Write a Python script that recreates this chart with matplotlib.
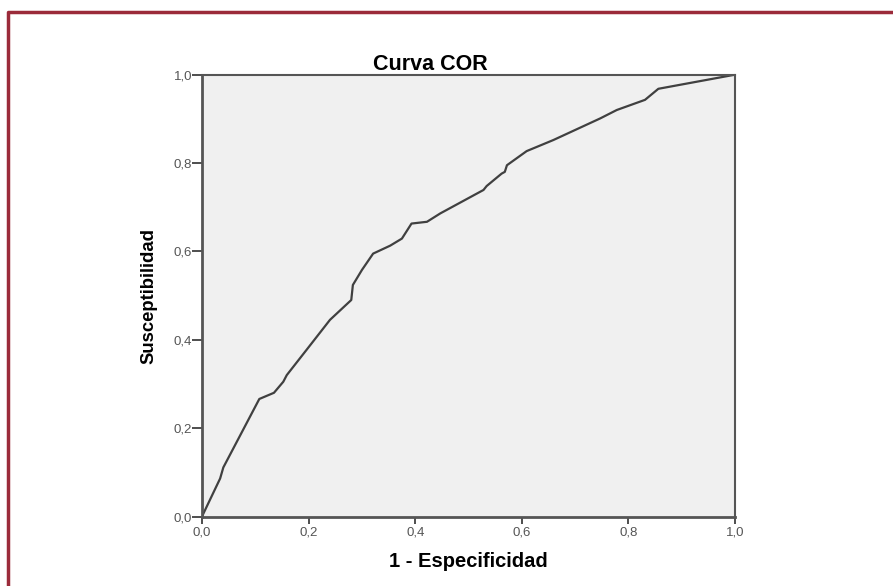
import matplotlib
matplotlib.use("Agg")
import matplotlib.pyplot as plt
import matplotlib.ticker as ticker
from matplotlib.lines import Line2D

plt.rcParams["font.family"] = ["Liberation Sans", "DejaVu Sans"]

# ROC curve points
fpr = [0.0, 0.034, 0.040, 0.1075, 0.135, 0.1525, 0.159, 0.196, 0.240, 0.280,
       0.283, 0.300, 0.321, 0.353, 0.375, 0.393, 0.422, 0.447, 0.528, 0.534,
       0.562, 0.568, 0.572, 0.609, 0.659, 0.747, 0.778, 0.831, 0.856, 1.0]
tpr = [0.0, 0.086, 0.111, 0.266, 0.280, 0.305, 0.320, 0.377, 0.445, 0.490,
       0.524, 0.558, 0.595, 0.613, 0.629, 0.663, 0.667, 0.686, 0.739, 0.748,
       0.776, 0.780, 0.795, 0.827, 0.852, 0.901, 0.920, 0.943, 0.968, 1.0]
ticks = [0.0, 0.2, 0.4, 0.6, 0.8, 1.0]

fig = plt.figure(figsize=(8.93, 5.86), dpi=100)
ax = fig.add_axes([0.2262, 0.1186, 0.597, 0.754])
ax.set_facecolor("#f0f0f0")

ax.plot(fpr, tpr, color="#404040", linewidth=1.6)

ax.set_xlim(0, 1)
ax.set_ylim(0, 1)
ax.set_xticks(ticks)
ax.set_yticks(ticks)
fmt = ticker.FuncFormatter(lambda v, p: f"{v:.1f}".replace(".", ","))
ax.xaxis.set_major_formatter(fmt)
ax.yaxis.set_major_formatter(fmt)
ax.tick_params(direction="out", width=1.3, color="#404040",
               labelcolor="#555555", labelsize=9.5)
ax.tick_params(axis="x", length=5, pad=2)
ax.tick_params(axis="y", length=7, pad=0)

for s in ax.spines.values():
    s.set_color("#555555")
    s.set_linewidth(1.5)
ax.spines["left"].set_linewidth(2)
ax.spines["bottom"].set_linewidth(2)

# title sits left of the axes centre in the original
ax.set_title("Curva COR", fontsize=15.5, fontweight="bold", pad=3, x=0.428)
ax.set_xlabel("1 - Especificidad", fontsize=14.5, fontweight="bold", labelpad=10)
ax.set_ylabel("Susceptibilidad", fontsize=13.3, fontweight="bold", labelpad=12,
              family=["Liberation Sans Narrow", "Liberation Sans"])

# dark red frame (left and top edges only visible)
W, H = 893, 586
fig.add_artist(Line2D([7.5 / W, 7.5 / W, 1.0], [0.0, 1 - 11.5 / H, 1 - 11.5 / H],
                      color="#9b2b3a", linewidth=2.5, transform=fig.transFigure))

fig.savefig("out.png", dpi=100)
